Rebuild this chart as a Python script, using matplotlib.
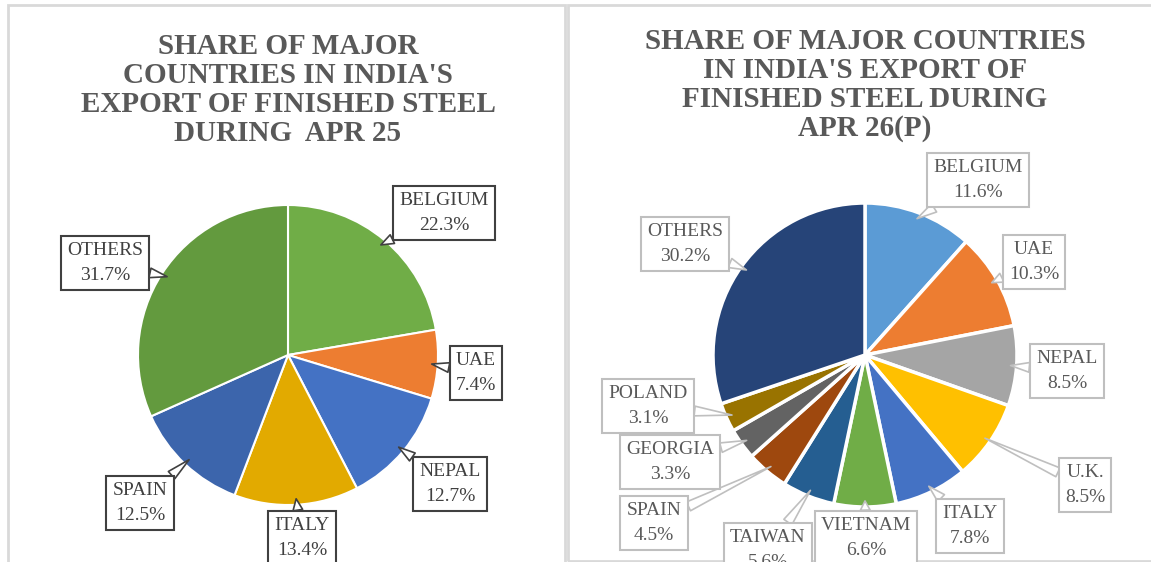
import numpy as np
import matplotlib
matplotlib.use("Agg")
import matplotlib.pyplot as plt
from matplotlib.patches import Rectangle

# ---- data ----
left_title = "SHARE OF MAJOR\nCOUNTRIES IN INDIA'S\nEXPORT OF FINISHED STEEL\nDURING  APR 25"
left_names = ["BELGIUM", "UAE", "NEPAL", "ITALY", "SPAIN", "OTHERS"]
left_vals = [22.3, 7.4, 12.7, 13.4, 12.5, 31.7]
left_colors = ["#70AD47", "#ED7D31", "#4472C4", "#E2AA00", "#3C65AC", "#639A3E"]

right_title = "SHARE OF MAJOR COUNTRIES\nIN INDIA'S EXPORT OF\nFINISHED STEEL DURING\nAPR 26(P)"
right_names = ["BELGIUM", "UAE", "NEPAL", "U.K.", "ITALY", "VIETNAM",
               "TAIWAN", "SPAIN", "GEORGIA", "POLAND", "OTHERS"]
right_vals = [11.6, 10.3, 8.5, 8.5, 7.8, 6.6, 5.6, 4.5, 3.3, 3.1, 30.2]
right_colors = ["#5B9BD5", "#ED7D31", "#A5A5A5", "#FFC000", "#4472C4", "#70AD47",
                "#255E91", "#9E480E", "#636363", "#997300", "#264478"]

# label box centres (pixels, from top-left)
left_lbl_pos = [(444, 213), (476, 373), (450, 484), (302, 538), (140, 503), (105, 263)]
right_lbl_pos = [(978, 180), (1034, 262), (1067, 371), (1085, 485), (970, 526),
                 (866, 538), (768, 550), (654, 523), (670, 462), (648, 406), (685, 244)]

W, H = 1151, 562
SERIF = ["Liberation Serif", "DejaVu Serif"]

fig = plt.figure(figsize=(W / 100, H / 100), dpi=100)
ax = fig.add_axes([0, 0, 1, 1])


def P(x, y):
    return (x, H - y)


# panel frames
ax.add_patch(Rectangle(P(8, 580), 557, 575, fill=False, ec="#D9D9D9", lw=2))
ax.add_patch(Rectangle(P(568, 561), 600, 556, fill=False, ec="#D9D9D9", lw=2))


def draw_panel(cx, cy, r, title, title_y, names, vals, colors, lbl_pos,
               edge_lw, txt_col, box_col):
    c = P(cx, cy)
    ax.pie(vals, colors=colors, startangle=90, counterclock=False,
           center=c, radius=r, frame=True,
           wedgeprops=dict(edgecolor="white", linewidth=edge_lw))
    ax.text(*P(cx, title_y), title, ha="center", va="center",
            family=SERIF, fontweight="bold", fontsize=21,
            color="#595959", linespacing=1.1)
    vals = np.array(vals)
    frac = (np.cumsum(vals) - vals / 2) / vals.sum()
    theta = np.deg2rad(90 - 360 * frac)
    for name, v, t, pos in zip(names, vals, theta, lbl_pos):
        tip = (c[0] + 0.96 * r * np.cos(t), c[1] + 0.96 * r * np.sin(t))
        ax.annotate(f"{name}\n{v:.1f}%", xy=tip, xytext=P(*pos),
                    ha="center", va="center", family=SERIF, fontsize=14,
                    color=txt_col, linespacing=1.6,
                    bbox=dict(boxstyle="square,pad=0.32", fc="white",
                              ec=box_col, lw=1.5),
                    arrowprops=dict(arrowstyle="wedge,tail_width=0.5",
                                    fc="white", ec=box_col, lw=1.2,
                                    shrinkA=0, shrinkB=0),
                    annotation_clip=False)


draw_panel(288, 355, 150, left_title, 90, left_names, left_vals, left_colors,
           left_lbl_pos, 1.5, "#404040", "#404040")
draw_panel(865, 355, 152, right_title, 85, right_names, right_vals, right_colors,
           right_lbl_pos, 2.5, "#595959", "#BFBFBF")

ax.set_xlim(0, W)
ax.set_ylim(0, H)
ax.set_aspect("auto")
ax.axis("off")

fig.savefig("out.png", dpi=100)
